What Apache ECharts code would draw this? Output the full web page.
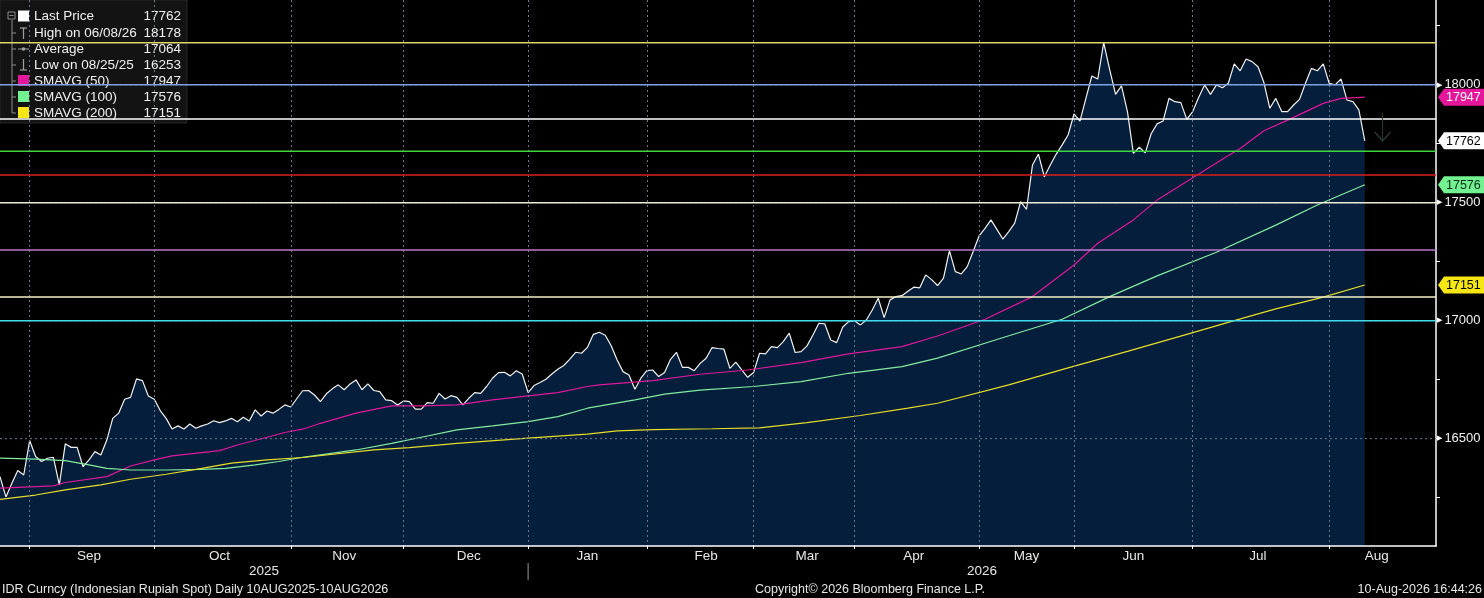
<!DOCTYPE html>
<html>
<head>
    <meta charset="utf-8" />
    <title>IDR Curncy (Indonesian Rupiah Spot) Daily</title>
    <script src="https://cdn.jsdelivr.net/npm/echarts@6.0.0/dist/echarts.min.js"></script>
    <style>
        html, body { margin: 0; padding: 0; background: #000; }
        #main { width: 1484px; height: 598px; }
    </style>
</head>
<body>
<div id="main"></div>
<script type="text/javascript">
    var FONT = '"Liberation Sans", Arial, sans-serif';

    // x axis: trading-day slots, data ends at slot 230, axis runs on to the end of Aug
    var slotCount = 243;
    var monthNames = ['Sep', 'Oct', 'Nov', 'Dec', 'Jan', 'Feb', 'Mar', 'Apr', 'May', 'Jun', 'Jul', 'Aug'];
    var monthStart = [5, 26, 49, 68, 89, 109, 127, 144, 165, 181, 201, 224];
    var monthLabelAt = [15, 37, 58, 79, 99, 119, 136, 154, 173, 191, 212, 232];
    var yearNames = ['2025', '2026'];

    // y axis
    var yMin = 16045;
    var yMax = 18359;
    var yLabelValues = [16500, 17000, 17500, 18000];
    var yTickValues = [16250, 16500, 16750, 17000, 17250, 17500, 17750, 18000, 18250];

    // last price, one value per trading day
    var lastPrice = [
        16339, 16253, 16311, 16365, 16346, 16492, 16424, 16403, 16417, 16421,
        16304, 16478, 16463, 16463, 16381, 16410, 16445, 16431, 16494, 16586,
        16608, 16667, 16675, 16753, 16746, 16681, 16667, 16619, 16586, 16541,
        16554, 16541, 16562, 16544, 16554, 16562, 16576, 16568, 16575, 16586,
        16572, 16591, 16575, 16622, 16596, 16617, 16608, 16624, 16643, 16634,
        16669, 16703, 16704, 16685, 16657, 16690, 16711, 16728, 16707, 16732,
        16749, 16707, 16732, 16704, 16699, 16664, 16661, 16643, 16660, 16657,
        16625, 16625, 16653, 16650, 16692, 16668, 16682, 16675, 16643, 16671,
        16695, 16692, 16721, 16756, 16780, 16781, 16766, 16788, 16774, 16695,
        16725, 16738, 16752, 16774, 16794, 16810, 16836, 16866, 16862, 16887,
        16942, 16951, 16938, 16894, 16833, 16784, 16770, 16709, 16756, 16788,
        16791, 16763, 16780, 16836, 16866, 16802, 16802, 16788, 16819, 16841,
        16886, 16882, 16879, 16798, 16824, 16791, 16760, 16780, 16862, 16859,
        16890, 16886, 16911, 16947, 16865, 16869, 16893, 16939, 16989, 16986,
        16918, 16907, 16972, 16996, 17000, 16982, 17003, 17045, 17095, 17013,
        17088, 17102, 17106, 17125, 17142, 17139, 17194, 17174, 17149, 17180,
        17297, 17208, 17198, 17229, 17293, 17359, 17391, 17427, 17387, 17346,
        17377, 17413, 17504, 17472, 17660, 17706, 17610, 17660, 17706, 17745,
        17787, 17876, 17846, 17942, 18037, 18024, 18178, 18065, 17959, 17995,
        17886, 17709, 17735, 17711, 17792, 17834, 17846, 17942, 17928, 17924,
        17853, 17886, 17946, 17999, 17959, 17999, 17987, 18006, 18088, 18059,
        18109, 18098, 18076, 18009, 17900, 17942, 17886, 17886, 17914, 17938,
        18006, 18069, 18059, 18088, 18006, 17999, 18024, 17935, 17928, 17893,
        17762
    ];

    // moving averages as [slot, value]
    var sma50 = [
        [0, 16290], [9, 16300], [11, 16314], [18, 16339], [22, 16384], [26, 16410], [29, 16427],
        [34, 16441], [37, 16449], [40, 16473], [45, 16506], [48, 16526], [51, 16540], [54, 16565],
        [60, 16608], [66, 16639], [71, 16639], [77, 16643], [83, 16664], [89, 16681], [94, 16695],
        [99, 16721], [101, 16728], [110, 16746], [118, 16773], [126, 16791], [135, 16822], [143, 16859],
        [152, 16890], [158, 16935], [166, 17006], [174, 17102], [181, 17236], [185, 17328], [191, 17427],
        [195, 17511], [206, 17684], [209, 17730], [213, 17805], [217, 17850], [223, 17921], [226, 17942],
        [230, 17947]
    ];
    var sma100 = [
        [0, 16417], [6, 16413], [11, 16407], [15, 16389], [18, 16374], [22, 16367], [28, 16367],
        [34, 16370], [38, 16374], [43, 16389], [47, 16403], [51, 16421], [60, 16452], [66, 16480],
        [71, 16506], [77, 16537], [83, 16554], [89, 16572], [94, 16593], [99, 16629], [107, 16664],
        [112, 16689], [118, 16706], [127, 16721], [135, 16742], [143, 16777], [152, 16805], [158, 16841],
        [168, 16920], [179, 17006], [187, 17102], [195, 17190], [205, 17290], [215, 17405], [222, 17490],
        [230, 17576]
    ];
    var sma200 = [
        [0, 16243], [6, 16261], [11, 16283], [17, 16304], [22, 16328], [28, 16349], [34, 16374],
        [39, 16396], [45, 16410], [51, 16420], [63, 16452], [69, 16462], [77, 16480], [89, 16502],
        [99, 16519], [104, 16533], [110, 16538], [120, 16542], [128, 16546], [136, 16568], [145, 16598],
        [153, 16629], [158, 16650], [170, 16728], [180, 16800], [190, 16870], [200, 16942], [208, 17000],
        [215, 17050], [223, 17100], [230, 17151]
    ];

    // horizontal study lines
    var levelValues = [18178, 18000, 17855, 17718, 17617, 17500, 17300, 17100, 17000];
    var levelColors = ['#e0d66a', '#7fa2e6', '#ffffff', '#3ed83e', '#dc1e1e', '#ecead2', '#b878cc', '#f4f2c8', '#40dcec'];

    // last-value tags on the right axis
    var tagValues = [17947, 17762, 17576, 17151];
    var tagFill = ['#e5169b', '#ffffff', '#72f290', '#f6e714'];
    var tagText = ['#ffffff', '#000000', '#0b2a14', '#000000'];

    // forecast arrow after the last bar
    var arrowSlot = 233;
    var arrowValue = 17821;

    // legend rows
    var legendNames = ['Last Price', 'High on 06/08/26', 'Average', 'Low on 08/25/25', 'SMAVG (50)', 'SMAVG (100)', 'SMAVG (200)'];
    var legendValues = ['17762', '18178', '17064', '16253', '17947', '17576', '17151'];

    var footerLeft = 'IDR Curncy (Indonesian Rupiah Spot) Daily 10AUG2025-10AUG2026';
    var footerMid = 'Copyright\u00a9 2026 Bloomberg Finance L.P.';
    var footerRight = '10-Aug-2026 16:44:26';

    var categories = [];
    for (var i = 0; i < slotCount; i++) {
        categories.push(String(i));
    }

    var chart = echarts.init(document.getElementById('main'));

    // a flat line across the whole x range, drawn as an ordinary line series
    function flatLine(name, value, color, type, width, z) {
        return {
            name: name,
            type: 'line',
            data: [[0, value], [slotCount - 1, value]],
            symbol: 'none',
            silent: true,
            z: z,
            lineStyle: { color: color, width: width, type: type },
            emphasis: { disabled: true }
        };
    }

    var series = [
        {
            name: 'Last Price',
            type: 'line',
            data: lastPrice,
            symbol: 'none',
            z: 2,
            lineStyle: { color: '#f2f2f2', width: 1.2 },
            areaStyle: { color: '#041e3b', opacity: 1, origin: 'start' },
            markPoint: {
                silent: true,
                data: [{
                    coord: [String(arrowSlot), arrowValue],
                    symbol: 'path://M10,0 L10,28 M2,19 L10,28 L18,19',
                    symbolSize: [16, 28],
                    itemStyle: { color: 'rgba(0,0,0,0)', borderColor: '#2b3d31', borderWidth: 1.3 },
                    label: { show: false }
                }]
            }
        },
        {
            name: 'SMAVG (50)', type: 'line', data: sma50, symbol: 'none', z: 2,
            lineStyle: { color: '#e0189a', width: 1.2 }
        },
        {
            name: 'SMAVG (100)', type: 'line', data: sma100, symbol: 'none', z: 2,
            lineStyle: { color: '#84eca0', width: 1.2 }
        },
        {
            name: 'SMAVG (200)', type: 'line', data: sma200, symbol: 'none', z: 2,
            lineStyle: { color: '#e8dd2a', width: 1.2 }
        }
    ];
    yLabelValues.forEach(function (v, k) {
        series.push(flatLine('grid' + k, v, '#6a7a8c', [2, 3], 1, 3));
    });
    levelValues.forEach(function (v, k) {
        series.push(flatLine('level' + k, v, levelColors[k], 'solid', 1.5, 4));
    });

    var option = {
        backgroundColor: '#000000',
        animation: false,
        textStyle: { fontFamily: FONT },
        grid: { left: 0, right: 48, top: 0, bottom: 52, containLabel: false, outerBoundsMode: 'none' },
        xAxis: {
            type: 'category',
            data: categories,
            boundaryGap: false,
            z: 3,
            axisLine: { lineStyle: { color: '#ffffff', width: 1.5 } },
            axisTick: {
                show: true,
                interval: function (idx) { return monthStart.indexOf(idx) >= 0; },
                length: 3,
                lineStyle: { color: '#ffffff' }
            },
            axisLabel: {
                interval: function (idx) { return monthLabelAt.indexOf(idx) >= 0; },
                formatter: function (val, idx) { return monthNames[monthLabelAt.indexOf(idx)] || ''; },
                color: '#e8e8e8',
                fontSize: 13.5,
                margin: 3,
                fontFamily: FONT,
                hideOverlap: false
            },
            splitLine: {
                show: true,
                interval: function (idx) { return monthStart.indexOf(idx) >= 0; },
                lineStyle: { color: '#6a7a8c', width: 1, type: [2, 3] }
            }
        },
        yAxis: {
            type: 'value',
            position: 'right',
            min: yMin,
            max: yMax,
            z: 3,
            axisLine: { show: true, lineStyle: { color: '#ffffff', width: 1.5 } },
            axisTick: { show: true, customValues: yTickValues, length: 4, lineStyle: { color: '#ffffff' } },
            axisLabel: {
                customValues: yLabelValues,
                margin: 1,
                formatter: function (v) { return '{a|\u25B6}{b|' + v + '}'; },
                rich: {
                    a: { color: '#ffffff', fontSize: 7, padding: [0, 2, 0, 0], fontFamily: 'DejaVu Sans' },
                    b: { color: '#f2f2f2', fontSize: 13, fontFamily: FONT }
                }
            },
            splitLine: { show: false }
        },
        series: series
    };
    chart.setOption(option);

    // layout pieces that depend on the axes
    var xStart = chart.convertToPixel({ xAxisIndex: 0 }, categories[0]);
    var xJan = chart.convertToPixel({ xAxisIndex: 0 }, categories[monthStart[4]]);
    var xEnd = chart.convertToPixel({ xAxisIndex: 0 }, categories[slotCount - 1]);

    var graphics = [];

    // year row
    graphics.push({
        type: 'text', z: 10,
        style: { text: yearNames[0], x: (xStart + xJan) / 2, y: 571, align: 'center', verticalAlign: 'middle',
                 fill: '#e8e8e8', font: '13.5px ' + FONT }
    });
    graphics.push({
        type: 'text', z: 10,
        style: { text: yearNames[1], x: (xJan + xEnd) / 2, y: 571, align: 'center', verticalAlign: 'middle',
                 fill: '#e8e8e8', font: '13.5px ' + FONT }
    });
    graphics.push({
        type: 'line', z: 10,
        shape: { x1: xJan, y1: 563, x2: xJan, y2: 580 },
        style: { stroke: '#9a9a9a', lineWidth: 1 }
    });

    // footer
    graphics.push({
        type: 'text', z: 10,
        style: { text: footerLeft, x: 2, y: 590, verticalAlign: 'middle', fill: '#e6e6e6', font: '12.5px ' + FONT }
    });
    graphics.push({
        type: 'text', z: 10,
        style: { text: footerMid, x: 755, y: 590, verticalAlign: 'middle', fill: '#e6e6e6', font: '12.5px ' + FONT }
    });
    graphics.push({
        type: 'text', z: 10,
        style: { text: footerRight, x: 1482, y: 590, align: 'right', verticalAlign: 'middle', fill: '#e6e6e6', font: '12.5px ' + FONT }
    });

    // value tags on the right axis
    tagValues.forEach(function (v, i) {
        var y = chart.convertToPixel({ yAxisIndex: 0 }, v);
        var x0 = xEnd + 2;
        graphics.push({
            type: 'polygon', z: 20,
            shape: { points: [[x0, y], [x0 + 6, y - 8.5], [1484, y - 8.5], [1484, y + 8.5], [x0 + 6, y + 8.5]] },
            style: { fill: tagFill[i] }
        });
        graphics.push({
            type: 'text', z: 21,
            style: { text: String(v), x: x0 + 8, y: y + 0.5, verticalAlign: 'middle', fill: tagText[i], font: '12.5px ' + FONT }
        });
    });

    // legend box, top left
    var rowY = [16.5, 33, 49, 65, 81, 97, 113];
    var legend = [];
    legend.push({ type: 'rect', shape: { x: 0, y: 0, width: 187, height: 123 }, style: { fill: '#131313', stroke: '#262626', lineWidth: 1 } });
    legend.push({ type: 'line', shape: { x1: 12, y1: 20, x2: 12, y2: rowY[6] }, style: { stroke: '#8c8c8c', lineWidth: 1 } });
    legend.push({ type: 'rect', shape: { x: 8, y: 12, width: 7, height: 7 }, style: { fill: '#131313', stroke: '#8c8c8c', lineWidth: 1 } });
    legend.push({ type: 'line', shape: { x1: 9.5, y1: 15.5, x2: 13.5, y2: 15.5 }, style: { stroke: '#8c8c8c', lineWidth: 1 } });
    for (var r = 1; r < rowY.length; r++) {
        legend.push({ type: 'line', shape: { x1: 12, y1: rowY[r], x2: 16, y2: rowY[r] }, style: { stroke: '#8c8c8c', lineWidth: 1 } });
    }
    // icons
    legend.push({ type: 'rect', shape: { x: 18, y: rowY[0] - 6, width: 11, height: 11 }, style: { fill: '#ffffff' } });
    legend.push({ type: 'line', shape: { x1: 23.5, y1: rowY[1] - 5, x2: 23.5, y2: rowY[1] + 6 }, style: { stroke: '#a0a0a0', lineWidth: 1.2 } });
    legend.push({ type: 'line', shape: { x1: 20, y1: rowY[1] - 5, x2: 27, y2: rowY[1] - 5 }, style: { stroke: '#a0a0a0', lineWidth: 1.2 } });
    legend.push({ type: 'line', shape: { x1: 18, y1: rowY[2], x2: 29, y2: rowY[2] }, style: { stroke: '#a0a0a0', lineWidth: 1 } });
    legend.push({ type: 'circle', shape: { cx: 23.5, cy: rowY[2], r: 1.8 }, style: { fill: '#a0a0a0' } });
    legend.push({ type: 'line', shape: { x1: 23.5, y1: rowY[3] - 6, x2: 23.5, y2: rowY[3] + 5 }, style: { stroke: '#a0a0a0', lineWidth: 1.2 } });
    legend.push({ type: 'line', shape: { x1: 20, y1: rowY[3] + 5, x2: 27, y2: rowY[3] + 5 }, style: { stroke: '#a0a0a0', lineWidth: 1.2 } });
    legend.push({ type: 'rect', shape: { x: 18, y: rowY[4] - 6, width: 11, height: 11 }, style: { fill: '#e5169b' } });
    legend.push({ type: 'rect', shape: { x: 18, y: rowY[5] - 6, width: 11, height: 11 }, style: { fill: '#72f290' } });
    legend.push({ type: 'rect', shape: { x: 18, y: rowY[6] - 6, width: 11, height: 11 }, style: { fill: '#f6e714' } });
    legendNames.forEach(function (name, k) {
        legend.push({ type: 'text', style: { text: name, x: 34, y: rowY[k], verticalAlign: 'middle', fill: '#f0f0f0', font: '13.5px ' + FONT } });
        legend.push({ type: 'text', style: { text: legendValues[k], x: 181, y: rowY[k], align: 'right', verticalAlign: 'middle', fill: '#f0f0f0', font: '13.5px ' + FONT } });
    });
    graphics.push({ type: 'group', z: 30, children: legend });

    chart.setOption({ graphic: graphics });
</script>
</body>
</html>
